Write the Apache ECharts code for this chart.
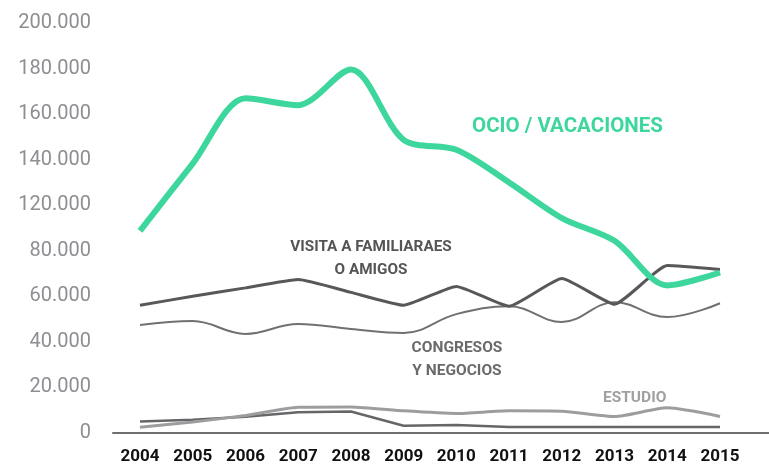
<!DOCTYPE html>
<html>
<head>
<meta charset="utf-8">
<script src="https://cdn.jsdelivr.net/npm/echarts@6/dist/echarts.min.js"></script>
<style>
  html, body { margin: 0; padding: 0; background: #fff; }
  #chart { width: 769px; height: 465px; }
</style>
</head>
<body>
<div id="chart"></div>
<script>
// años
var years = ['2004', '2005', '2006', '2007', '2008', '2009', '2010', '2011', '2012', '2013', '2014', '2015']
// etiquetas del eje y (tal como aparecen, sin 100.000)
var yTickLabels = ['0', '20.000', '40.000', '60.000', '80.000', '120.000', '140.000', '160.000', '180.000', '200.000']

var ocio = [86957, 116522, 145217, 142174, 157826, 126957, 122609, 108261, 92609, 82609, 63043, 68696]
var visita = [54348, 58261, 61957, 65652, 60000, 54348, 62609, 53913, 66087, 54783, 71739, 70000]
var congresos = [45652, 47391, 41739, 46087, 43913, 42174, 50435, 53913, 46957, 55652, 49130, 55217]
var estudio = [800, 3043, 5942, 9565, 9710, 7971, 6812, 7971, 7826, 5507, 9275, 5507]
var otros = [3333, 4058, 5362, 7391, 7681, 1449, 1739, 870, 870, 870, 870, 870]

var myChart = echarts.init(document.getElementById('chart'))

var option = {
  backgroundColor: '#fff',
  animation: false,
  grid: [
    { left: 140, right: 49, top: 19, bottom: 32 },
    { left: 113, right: 0, top: 19, bottom: 32 } // solo para la línea del eje
  ],
  xAxis: [{
    type: 'category',
    data: years,
    boundaryGap: false,
    axisLine: { show: false },
    axisTick: { show: false },
    axisLabel: {
      color: '#111',
      fontFamily: 'Roboto',
      fontWeight: 'bold',
      fontSize: 17,
      margin: 19
    }
  }, {
    gridIndex: 1,
    type: 'category',
    data: years,
    axisLine: { show: true, lineStyle: { color: '#6f6f6f', width: 2 } },
    axisTick: { show: false },
    axisLabel: { show: false }
  }],
  yAxis: [{
    type: 'value',
    min: 0,
    max: 180000,
    interval: 20000,
    axisLine: { show: false },
    axisTick: { show: false },
    splitLine: { show: false },
    axisLabel: {
      color: '#8e8e93',
      fontFamily: 'Roboto',
      fontSize: 20,
      margin: 49,
      formatter: function(v) {
        return '{t|' + yTickLabels[Math.round(v / 20000)] + '}'
      },
      rich: {
        t: { color: '#8e8e93', fontFamily: 'Roboto', fontSize: 20, padding: [8, 0, 0, 0] }
      }
    }
  }, {
    gridIndex: 1,
    type: 'value',
    min: 0,
    max: 180000,
    show: false
  }],
  series: [{
    name: 'Otros',
    type: 'line',
    data: otros,
    symbol: 'none',
    lineStyle: { color: '#666668', width: 2.5 },
    z: 2
  }, {
    name: 'Estudio',
    type: 'line',
    data: estudio,
    symbol: 'none',
    smooth: 0.2,
    lineStyle: { color: '#9d9d9f', width: 3 },
    z: 3
  }, {
    name: 'Congresos y negocios',
    type: 'line',
    data: congresos,
    symbol: 'none',
    smooth: 0.4,
    lineStyle: { color: '#707072', width: 2 },
    z: 3
  }, {
    name: 'Visita a familiares',
    type: 'line',
    data: visita,
    symbol: 'none',
    smooth: 0.15,
    lineStyle: { color: '#58585a', width: 3 },
    z: 4
  }, {
    name: 'Ocio / vacaciones',
    type: 'line',
    data: ocio,
    symbol: 'none',
    smooth: 0.3,
    lineStyle: { color: '#3dd69d', width: 6 },
    z: 5
  }],
  graphic: [{
    type: 'text',
    left: 472, top: 116,
    style: { text: 'OCIO / VACACIONES', fill: '#3dd69d', font: 'bold 20.5px Roboto' }
  }, {
    type: 'text',
    x: 371, y: 236,
    style: { text: 'VISITA A FAMILIARAES\nO AMIGOS', fill: '#555557', font: 'bold 15.3px Roboto', align: 'center', verticalAlign: 'top', lineHeight: 23 }
  }, {
    type: 'text',
    x: 457, y: 337,
    style: { text: 'CONGRESOS\nY NEGOCIOS', fill: '#6a6a6c', font: 'bold 15.5px Roboto', align: 'center', verticalAlign: 'top', lineHeight: 23 }
  }, {
    type: 'text',
    left: 603, top: 390,
    style: { text: 'ESTUDIO', fill: '#a0a0a2', font: 'bold 15.5px Roboto' }
  }]
}

myChart.setOption(option)
</script>
</body>
</html>
